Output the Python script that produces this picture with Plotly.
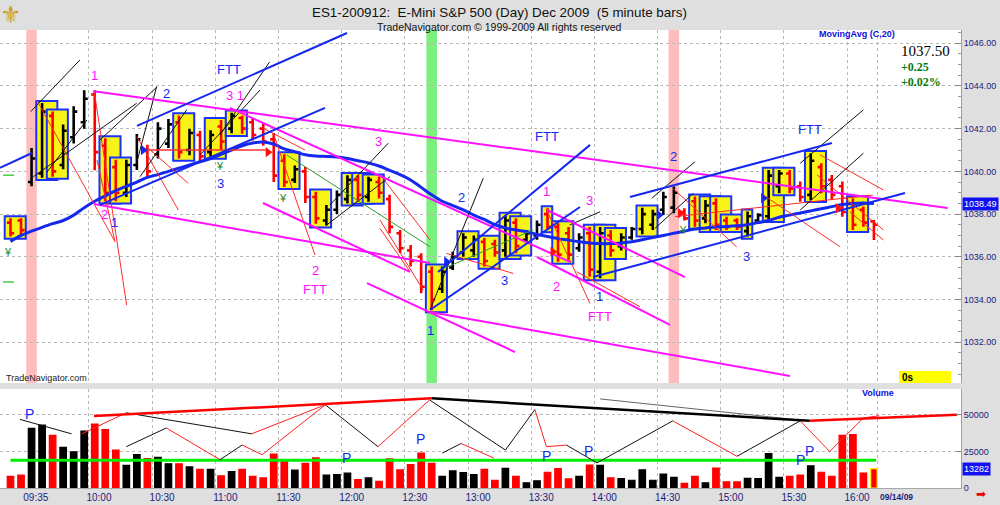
import plotly.graph_objects as go

# ---------------- data ----------------
bars = list(range(83))  # 0-1 previous session, 2 = 09:30 bar ... 82 = 16:10 bar

opens = [1037.6, 1037.7, 1039.5, 1039.9, 1042.6, 1040.3, 1041.6, 1042.3, 1043.6, 1041.2,
         1040.2, 1039.0, 1040.3, 1041.0, 1040.8, 1041.3, 1042.3, 1041.0, 1041.7, 1040.9,
         1042.1, 1042.0, 1042.5, 1042.3, 1042.0, 1041.5, 1040.5, 1039.6, 1040.0, 1038.8,
         1037.7, 1038.2, 1038.7, 1039.6, 1038.8, 1039.5, 1038.7, 1037.1, 1036.3, 1036.0,
         1035.3, 1034.5, 1035.5, 1036.2, 1036.3, 1036.7, 1036.6, 1036.3, 1037.6, 1036.8,
         1037.0, 1038.0, 1037.4, 1037.1, 1036.4, 1037.1, 1035.3, 1037.0, 1036.5, 1036.9,
         1037.3, 1037.5, 1038.2, 1038.3, 1038.1, 1038.6, 1037.8, 1038.5, 1037.7, 1037.7,
         1037.2, 1037.7, 1037.9, 1039.3, 1039.9, 1039.3, 1038.9, 1040.2, 1039.6, 1039.3,
         1038.5, 1038.2, 1037.65]
highs = [1037.8, 1037.8, 1041.1, 1043.2, 1042.8, 1042.2, 1043.05, 1043.8, 1043.8, 1041.55,
         1040.55, 1040.55, 1041.75, 1041.25, 1042.3, 1042.45, 1042.62, 1042.0, 1041.9, 1041.93,
         1042.4, 1042.75, 1042.6, 1042.5, 1042.24, 1041.8, 1040.8, 1040.27, 1040.2, 1039.05,
         1038.42, 1039.1, 1039.82, 1039.82, 1039.75, 1039.75, 1038.9, 1037.25, 1036.55, 1036.16,
         1035.54, 1035.54, 1036.24, 1037.1, 1037.0, 1036.88, 1036.8, 1037.96, 1037.8, 1037.25,
         1037.7, 1038.27, 1037.57, 1037.4, 1037.1, 1037.4, 1037.4, 1037.25, 1037.1, 1037.4,
         1038.3, 1038.2, 1039.05, 1039.29, 1038.27, 1038.82, 1038.66, 1038.74, 1037.88, 1037.8,
         1038.12, 1038.04, 1040.07, 1040.07, 1040.07, 1039.52, 1040.85, 1040.38, 1039.83, 1039.52,
         1038.74, 1038.35, 1037.72]
lows = [1036.95, 1036.95, 1039.3, 1039.7, 1039.75, 1040.1, 1041.3, 1042.0, 1040.05, 1038.6,
        1038.6, 1038.8, 1040.06, 1039.7, 1040.6, 1041.1, 1040.6, 1040.75, 1040.4, 1040.69,
        1041.0, 1041.78, 1041.76, 1041.45, 1041.2, 1039.5, 1039.27, 1039.45, 1038.52, 1037.55,
        1037.47, 1038.0, 1038.5, 1038.58, 1038.58, 1038.73, 1037.1, 1036.18, 1035.54, 1034.29,
        1033.5, 1034.3, 1035.38, 1036.0, 1036.0, 1035.54, 1036.0, 1036.0, 1036.16, 1036.7,
        1036.8, 1037.25, 1035.77, 1035.85, 1036.24, 1035.07, 1035.0, 1036.0, 1036.3, 1036.8,
        1037.05, 1037.26, 1037.96, 1038.04, 1037.7, 1037.41, 1037.57, 1037.26, 1037.26, 1037.26,
        1036.95, 1037.65, 1037.73, 1038.98, 1038.98, 1038.58, 1038.66, 1038.98, 1038.66, 1037.88,
        1037.26, 1037.41, 1036.79]
closes = [1037.1, 1037.25, 1040.6, 1042.8, 1040.0, 1041.9, 1042.8, 1043.4, 1040.9, 1039.0,
          1039.0, 1040.3, 1041.5, 1040.0, 1042.0, 1042.2, 1040.9, 1041.8, 1040.7, 1041.7,
          1041.4, 1042.6, 1042.0, 1041.7, 1041.4, 1039.8, 1039.5, 1040.1, 1038.8, 1037.8,
          1038.2, 1038.9, 1039.6, 1038.9, 1039.6, 1039.0, 1037.4, 1036.4, 1035.8, 1034.6,
          1034.0, 1035.3, 1036.0, 1036.9, 1036.8, 1035.8, 1036.2, 1037.7, 1036.5, 1037.1,
          1037.5, 1037.4, 1036.1, 1036.1, 1036.9, 1035.4, 1037.1, 1036.3, 1036.9, 1037.3,
          1038.0, 1038.0, 1038.8, 1039.0, 1037.8, 1037.7, 1038.4, 1037.5, 1037.4, 1037.4,
          1037.9, 1037.95, 1039.8, 1039.9, 1039.2, 1038.8, 1040.5, 1039.3, 1038.9, 1038.1,
          1037.5, 1037.6, 1037.5]
volumes = [8000, 8800, 40900, 43100, 36000, 27800, 24750, 38900, 43800, 40000,
           26000, 15500, 22800, 20100, 21000, 16600, 16600, 14400, 12800, 12800,
           8400, 11300, 12800, 8000, 6900, 23200, 18800, 12200, 16800, 20600,
           8800, 9100, 10200, 5700, 6900, 4600, 19900, 12400, 16100, 23900,
           16800, 8000, 11700, 10600, 9100, 12800, 5300, 13500, 8000, 3500,
           4900, 10800, 13300, 6200, 8000, 15700, 15500, 6900, 6400, 5300,
           12400, 5300, 9500, 7300, 3100, 8000, 3500, 13700, 4200, 4200,
           6600, 6400, 23600, 7300, 8000, 8800, 15200, 10800, 8000, 36000,
           36500, 10200, 13282]
ma20 = [1036.72, 1037.0, 1037.2, 1037.38, 1037.55, 1037.7, 1037.95, 1038.3, 1038.6, 1038.85,
        1039.1, 1039.3, 1039.5, 1039.72, 1039.85, 1040.0, 1040.15, 1040.3, 1040.45, 1040.6,
        1040.8, 1041.0, 1041.2, 1041.33, 1041.38, 1041.28, 1041.05, 1040.92, 1040.78, 1040.72,
        1040.7, 1040.67, 1040.6, 1040.5, 1040.4, 1040.25, 1040.05, 1039.85, 1039.6, 1039.25,
        1038.9, 1038.6, 1038.4, 1038.2, 1037.95, 1037.75, 1037.5, 1037.35, 1037.25, 1037.18,
        1037.05, 1036.95, 1036.85, 1036.78, 1036.7, 1036.65, 1036.62, 1036.62, 1036.65, 1036.7,
        1036.8, 1036.9, 1037.0, 1037.1, 1037.2, 1037.3, 1037.35, 1037.4, 1037.42, 1037.45,
        1037.5, 1037.6, 1037.7, 1037.85, 1037.95, 1038.05, 1038.15, 1038.25, 1038.35, 1038.45,
        1038.5, 1038.52, 1038.49]

time_labels = ["09:35", "10:00", "10:30", "11:00", "11:30", "12:00", "12:30", "13:00",
               "13:30", "14:00", "14:30", "15:00", "15:30", "16:00"]
time_label_bars = [2, 8, 14, 20, 26, 32, 38, 44, 50, 56, 62, 68, 74, 80]
date_label = "09/14/09"
price_ticks = [1032, 1034, 1036, 1038, 1040, 1042, 1044, 1046]
volume_ticks = [0, 25000, 50000]
last_price = "1037.50"
net_change = "+0.25"
pct_change = "+0.02%"
last_ma = 1038.49
last_volume = 13282
volume_level = 19000

box_groups = [(0, 1), (3, 4), (4, 5), (9, 10), (10, 11), (16, 17), (19, 20), (21, 22), (26, 27),
              (29, 30), (32, 33), (33, 34), (34, 35), (40, 41), (43, 44), (45, 46), (47, 48),
              (48, 49), (51, 51), (52, 53), (55, 56), (56, 57), (57, 58), (60, 61), (65, 66),
              (66, 67), (67, 68), (68, 69), (70, 70), (72, 73), (73, 74), (76, 77), (80, 81)]
pink_bars = [2, 63]
green_bars = [40]

# trend lines drawn on the chart: (bar, price, bar, price)
magenta_lines = [(7.9, 1043.75, 89.0, 1038.29), (7.93, 1038.47, 39.84, 1035.71),
                 (20.84, 1042.97, 53.13, 1035.76), (23.98, 1038.52, 37.94, 1035.29),
                 (33.86, 1034.77, 47.91, 1031.54), (39.84, 1033.41, 74.03, 1030.42),
                 (50.0, 1035.99, 62.63, 1032.81), (50.95, 1038.19, 64.06, 1035.05)]
blue_lines = [(-1.0, 1040.16, 2.04, 1040.86), (8.5, 1038.43, 29.87, 1042.97),
              (12.01, 1042.13, 31.96, 1046.48), (40.6, 1035.29, 55.04, 1041.24),
              (39.84, 1033.51, 54.08, 1038.33), (55.32, 1035.05, 84.95, 1038.99),
              (58.83, 1038.80, 78.01, 1041.33)]
black_lines = [(1.92, 1042.80, 6.6, 1045.22), (2.17, 1039.75, 11.98, 1043.19),
               (3.47, 1039.97, 7.26, 1042.41), (8.5, 1041.47, 13.9, 1043.95),
               (11.98, 1040.39, 13.88, 1043.97), (12.3, 1039.75, 16.73, 1042.88),
               (18.0, 1040.77, 23.7, 1043.81), (19.9, 1041.71, 24.6, 1045.12),
               (30.34, 1038.43, 35.88, 1041.32), (30.03, 1037.49, 36.04, 1039.75),
               (39.84, 1033.51, 44.9, 1039.68), (53.1, 1037.49, 56.0, 1038.11),
               (60.9, 1038.74, 65.0, 1040.45), (61.2, 1037.33, 64.85, 1038.97),
               (75.0, 1040.38, 81.0, 1042.88), (75.0, 1038.19, 81.0, 1040.85)]
red_lines = [(2.49, 1043.34, 9.92, 1036.71), (7.96, 1043.73, 11.03, 1033.74),
             (8.22, 1040.53, 9.92, 1036.71), (12.0, 1041.63, 15.94, 1038.19),
             (12.93, 1041.15, 16.88, 1039.44), (24.0, 1042.02, 27.97, 1041.0),
             (24.96, 1041.78, 28.92, 1036.08), (35.25, 1039.75, 39.84, 1036.79),
             (35.09, 1037.33, 37.94, 1035.30), (35.09, 1037.72, 39.2, 1034.44),
             (41.4, 1036.16, 47.75, 1035.22), (50.92, 1038.19, 55.03, 1033.82),
             (53.77, 1035.30, 59.78, 1033.66), (62.9, 1039.21, 68.96, 1036.47),
             (71.5, 1038.89, 78.78, 1036.47), (76.9, 1040.77, 82.9, 1039.13),
             (76.6, 1039.83, 82.9, 1037.26), (63.1, 1037.88, 81.9, 1038.89),
             (79.7, 1038.11, 82.9, 1036.79)]
red_level_lines = [(12.6, 1041.0, 24.45, 1041.0)]
green_lines = [(26.23, 1040.77, 39.84, 1036.47), (40.8, 1035.38, 49.65, 1037.26)]
green_marks = [(-0.7, 1039.82, 0.33, 1039.82), (-0.7, 1034.82, 0.33, 1034.82)]
blue_triangles = [(12.6, 1041.0), (41.4, 1035.77), (61.6, 1037.96), (71.5, 1038.74)]
red_triangles = [(24.45, 1040.9), (51.5, 1036.24), (63.6, 1038.04), (78.6, 1038.27)]

magenta_texts = [("1", 7.96, 1044.5), ("2", 8.9, 1037.96), ("3 1", 21.3, 1043.53),
                 ("3", 34.93, 1041.39), ("2", 28.92, 1035.38), ("FTT", 28.92, 1034.45),
                 ("1", 50.92, 1039.05), ("3", 54.97, 1038.63), ("2", 51.87, 1034.6),
                 ("FTT", 55.98, 1033.2)]
blue_texts = [("2", 14.83, 1043.66), ("FTT", 20.75, 1044.75), ("1", 9.92, 1037.6),
              ("3", 19.9, 1039.45), ("2", 42.85, 1038.79), ("FTT", 50.92, 1041.63),
              ("3", 46.96, 1034.91), ("1", 55.92, 1034.13), ("2", 62.94, 1040.69),
              ("3", 69.91, 1036.0), ("FTT", 75.92, 1041.94), ("1", 39.84, 1032.57)]
yen_marks = [(-0.21, 1036.24), (19.9, 1040.25), (25.85, 1038.74), (63.9, 1037.25)]

# volume panel swing lines: (bar, volume)
zig_bars = [11.0, 14.8, 19.9, 22.0, 23.9, 29.9, 34.9, 39.8, 47.0, 49.8, 50.9, 52.8, 55.7,
            62.9, 69.0, 75.0, 77.8, 81.0, 82.5]
zig_vols = [28300, 41100, 19400, 29400, 22800, 57000, 28300, 60300, 26000, 53700, 28300,
            29400, 17200, 46000, 21700, 46000, 25000, 48000, 49500]
zig_colors = ["black", "red", "black", "red", "red", "black", "red", "black", "black", "red",
              "red", "black", "black", "red", "black", "red", "red", "red"]
vol_black_lines = [(0.9, 47000, 5.8, 37100), (11.0, 51500, 22.9, 37100), (41.0, 23900, 42.8, 30500)]
vol_red_lines = [(6.76, 37100, 11.0, 51500), (22.9, 37100, 29.9, 57000), (42.8, 30500, 45.9, 20500)]
vol_red_thick = [(7.93, 49300, 40.0, 61400), (75.9, 46000, 89.9, 50200)]
vol_black_thick = [(40.0, 61400, 75.9, 46000)]
vol_gray_lines = [(56.0, 61000, 75.0, 46500)]
vol_p_marks = [(1.85, 50400), (31.9, 20550), (38.9, 33800), (50.9, 21700), (54.9, 25400),
               (75.0, 19400), (75.9, 25400)]

# ---------------- figure ----------------
W, H = 1000, 505
ML, MR, MT, MB = 0, 39, 30, 17
PW, PH = W - ML - MR, H - MT - MB


def px(x):  # pixel -> paper x
    return (x - ML) / PW


def py(y):  # pixel -> paper y
    return (H - MB - y) / PH


def seg_xy(segs):
    xs, ys = [], []
    for x0, y0, x1, y1 in segs:
        xs += [x0, x1, None]
        ys += [y0, y1, None]
    return xs, ys


FONT = "Liberation Sans, Arial, sans-serif"
NAVY = "#1c1c7c"
MAG = "#ff10ff"
BLUE = "#1428f0"

fig = go.Figure()

fig.add_trace(go.Ohlc(x=bars, open=opens, high=highs, low=lows, close=closes,
                      xaxis="x2", yaxis="y",
                      increasing=dict(line=dict(color="black", width=2.6)),
                      decreasing=dict(line=dict(color="#ff0000", width=2.6)),
                      tickwidth=0.34, showlegend=False, hoverinfo="skip"))

fig.add_trace(go.Scatter(x=bars, y=ma20, mode="lines", xaxis="x2", yaxis="y",
                         line=dict(color=BLUE, width=3, shape="spline"), hoverinfo="skip"))


def add_lines(segs, color, width, xa="x2", ya="y"):
    xs, ys = seg_xy(segs)
    fig.add_trace(go.Scatter(x=xs, y=ys, mode="lines", xaxis=xa, yaxis=ya,
                             line=dict(color=color, width=width), hoverinfo="skip"))


add_lines(red_lines, "#ff2a2a", 1)
add_lines(black_lines, "#111111", 1)
add_lines(green_lines, "#2f9a2f", 1)
add_lines(red_level_lines, "#ff3030", 1.5)
add_lines(green_marks, "#44cc44", 1.5)
add_lines(magenta_lines, MAG, 2)
add_lines(blue_lines, BLUE, 2)

fig.add_trace(go.Scatter(x=[p[0] for p in blue_triangles], y=[p[1] for p in blue_triangles],
                         mode="markers", xaxis="x2", yaxis="y",
                         marker=dict(symbol="triangle-right", size=9, color=BLUE), hoverinfo="skip"))
fig.add_trace(go.Scatter(x=[p[0] for p in red_triangles], y=[p[1] for p in red_triangles],
                         mode="markers", xaxis="x2", yaxis="y",
                         marker=dict(symbol="triangle-right", size=9, color="#ff1010"), hoverinfo="skip"))

# volume
vol_colors = ["black" if c >= o else "#ff0000" for o, c in zip(opens, closes)]
vol_line_colors = list(vol_colors)
vol_line_colors[-1] = "#ffff00"
fig.add_trace(go.Bar(x=bars, y=volumes, xaxis="x", yaxis="y2", width=0.62,
                     marker=dict(color=vol_colors, line=dict(color=vol_line_colors, width=1.2)),
                     hoverinfo="skip"))
fig.add_trace(go.Scatter(x=[0, bars[-1] + 0.2], y=[volume_level, volume_level], mode="lines",
                         xaxis="x", yaxis="y2", line=dict(color="#00ee00", width=3), hoverinfo="skip"))
zr = [(zig_bars[i], zig_vols[i], zig_bars[i + 1], zig_vols[i + 1])
      for i in range(len(zig_colors)) if zig_colors[i] == "red"]
zb = [(zig_bars[i], zig_vols[i], zig_bars[i + 1], zig_vols[i + 1])
      for i in range(len(zig_colors)) if zig_colors[i] == "black"]
add_lines(zr + vol_red_lines, "#ff2020", 1, "x", "y2")
add_lines(zb + vol_black_lines, "#111111", 1, "x", "y2")
add_lines(vol_gray_lines, "#666666", 1, "x", "y2")
add_lines(vol_red_thick, "#ff0000", 2.5, "x", "y2")
add_lines(vol_black_thick, "#000000", 2.5, "x", "y2")

# shapes: bands and boxes
shapes = []
for b in pink_bars:
    shapes.append(dict(type="rect", xref="x2", yref="y domain", x0=b - 0.5, x1=b + 0.5, y0=0, y1=1,
                       fillcolor="#ffbcbc", line=dict(width=0), layer="below"))
for b in green_bars:
    shapes.append(dict(type="rect", xref="x2", yref="y domain", x0=b - 0.5, x1=b + 0.5, y0=0, y1=1,
                       fillcolor="#7cf07c", line=dict(width=0), layer="below"))
for s, e in box_groups:
    shapes.append(dict(type="rect", xref="x2", yref="y", x0=s - 0.55, x1=e + 0.45,
                       y0=min(lows[s:e + 1]) - 0.1, y1=max(highs[s:e + 1]) + 0.1,
                       fillcolor="#f8f418", line=dict(color="#1a30ff", width=2), layer="between"))
# "0s" box
shapes.append(dict(type="rect", xref="paper", yref="paper", x0=px(899), x1=px(951),
                   y0=py(383), y1=py(371), fillcolor="#ffff00", line=dict(width=0)))

ann = []
for t, x, y in magenta_texts:
    ann.append(dict(text=t, x=x, y=y, xref="x2", yref="y", showarrow=False,
                    font=dict(family=FONT, size=13, color=MAG)))
for t, x, y in blue_texts:
    ann.append(dict(text=t, x=x, y=y, xref="x2", yref="y", showarrow=False,
                    font=dict(family=FONT, size=13, color=BLUE)))
for x, y in yen_marks:
    ann.append(dict(text="¥", x=x, y=y, xref="x2", yref="y", showarrow=False,
                    font=dict(family=FONT, size=11, color="#1d8a1d")))
for x, v in vol_p_marks:
    ann.append(dict(text="P", x=x, y=v, xref="x", yref="y2", showarrow=False,
                    font=dict(family=FONT, size=14, color=BLUE)))


def paper_text(text, x, y, size, color, family=FONT, xanchor="center", **kw):
    return dict(text=text, x=px(x), y=py(y), xref="paper", yref="paper", xanchor=xanchor,
                yanchor="middle", showarrow=False, font=dict(family=family, size=size, color=color), **kw)


SERIF = "Liberation Serif, Times New Roman, serif"
ann += [
    paper_text("⚜", 11, 15, 24, "#c9a227", family="DejaVu Sans"),
    paper_text("ES1-200912:  E-Mini S&P 500 (Day) Dec 2009  (5 minute bars)", 500, 12, 13.4, "#111111"),
    paper_text("TradeNavigator.com © 1999-2009 All rights reserved", 499, 27, 10.5, "#111111"),
    paper_text("<b>MovingAvg (C,20)</b>", 857, 34, 9, "#1010e0"),
    paper_text(last_price, 899, 51, 15, "black", family=SERIF, xanchor="left"),
    paper_text("<b>" + net_change + "</b>", 899, 67, 12, "#0a7a0a", family=SERIF, xanchor="left"),
    paper_text("<b>" + pct_change + "</b>", 899, 82, 12, "#0a7a0a", family=SERIF, xanchor="left"),
    paper_text("<b>0s</b>", 900, 377, 10, "black", xanchor="left"),
    paper_text("TradeNavigator.com", 4, 378, 9, "#222222", xanchor="left"),
    paper_text("<b>Volume</b>", 878, 393, 9, "#1010e0"),
    paper_text("<b>" + date_label + "</b>", 896, 497, 8.5, NAVY),
    paper_text("➡", 981, 494, 12, "#ee0000", family="DejaVu Sans"),
    dict(text="%.2f" % last_ma, x=px(962), y=last_ma, xref="paper", yref="y", xanchor="left",
         showarrow=False, bgcolor="#1010f0", borderpad=1,
         font=dict(family=FONT, size=9, color="white")),
    dict(text=str(last_volume), x=px(962), y=last_volume, xref="paper", yref="y2", xanchor="left",
         showarrow=False, bgcolor="#1010f0", borderpad=1,
         font=dict(family=FONT, size=9, color="white")),
]

grid_bars = [7.45 + 6 * j for j in range(13)] + [82.3]
xr = [-0.997, 90.27]

fig.update_layout(
    width=W, height=H, margin=dict(l=ML, r=MR, t=MT, b=MB),
    paper_bgcolor="#dfdfdf", plot_bgcolor="white", showlegend=False,
    shapes=shapes, annotations=ann, hovermode=False,
    xaxis=dict(domain=[0, 1], anchor="y2", range=xr, tickmode="array",
               tickvals=[b + 0.4 for b in time_label_bars], ticktext=time_labels,
               ticks="", ticklen=0, showgrid=False, zeroline=False, automargin=False,
               tickfont=dict(family=FONT, size=10, color=NAVY),
               showline=True, linecolor="#a8a8a8",
               minor=dict(tickmode="array", tickvals=grid_bars, showgrid=True,
                          gridcolor="#b8b8b8", griddash="dot", gridwidth=1, ticks=""),
               rangeslider=dict(visible=False)),
    xaxis2=dict(domain=[0, 1], anchor="y", matches="x", range=xr, showticklabels=False,
                ticks="", showgrid=False, zeroline=False, automargin=False,
                minor=dict(tickmode="array", tickvals=grid_bars, showgrid=True,
                           gridcolor="#b8b8b8", griddash="dot", gridwidth=1, ticks=""),
                rangeslider=dict(visible=False)),
    yaxis=dict(domain=[py(383), 1], anchor="x2", side="right", range=[1030.09, 1046.62],
               tickmode="array", tickvals=price_ticks, ticktext=["%.2f" % v for v in price_ticks],
               ticks="inside", ticklen=6, tickcolor="#888888",
               showgrid=True, gridcolor="#b8b8b8", griddash="dot", zeroline=False,
               showline=True, linecolor="#a0a0a0", automargin=False,
               tickfont=dict(family=FONT, size=9, color=NAVY),
               minor=dict(dtick=0.5, ticks="inside", ticklen=3, tickcolor="#999999", showgrid=False)),
    yaxis2=dict(domain=[0, py(389)], anchor="x", side="right", range=[0, 67800],
                tickmode="array", tickvals=volume_ticks, ticktext=[str(v) for v in volume_ticks],
                ticks="inside", ticklen=5, tickcolor="#888888",
                showgrid=True, gridcolor="#b8b8b8", griddash="dot", zeroline=False,
                showline=True, linecolor="#a0a0a0", automargin=False,
                tickfont=dict(family=FONT, size=9, color=NAVY)),
)

fig.write_html("out.html", config={"displayModeBar": False},
               post_script="document.body.style.margin='0px';")
